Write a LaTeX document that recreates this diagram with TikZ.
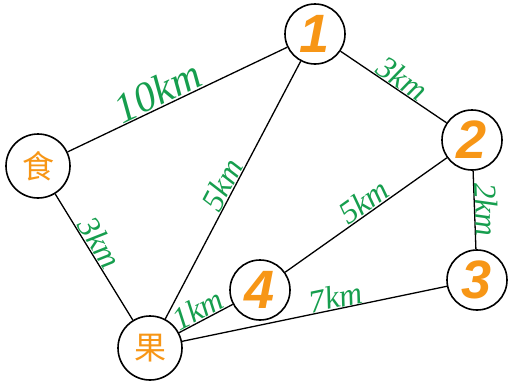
\documentclass[tikz,border=0pt]{standalone}
\usepackage{fontspec}
\setmainfont{Liberation Serif}
\newfontfamily\cjkfont{Noto Sans CJK SC}
\newfontfamily\numfont{Liberation Sans}
\newfontfamily\kmfont{Liberation Serif Italic}
\definecolor{kmgreen}{RGB}{22,158,78}
\definecolor{townorange}{RGB}{247,150,22}
\begin{document}
\begin{tikzpicture}[x=1pt,y=-1pt,
  town/.style={circle,draw,line width=1.6pt,minimum size=60pt,inner sep=0pt,fill=white,text=townorange,font=\numfont\bfseries\itshape\fontsize{54}{54}\selectfont},
  hanzi/.style={town,minimum size=64pt,font=\cjkfont\fontsize{32}{32}\selectfont},
  dist/.style={sloped,above,inner sep=0.5pt,text=kmgreen,font=\kmfont\fontsize{32}{32}\selectfont},
  road/.style={line width=1.3pt}]
\useasboundingbox (0,0) rectangle (510,383);
\node[hanzi](shi) at (38,166){食};
\node[hanzi](guo) at (150,348){果};
\node[town](n1) at (315,34){1};
\node[town](n2) at (472,140){2};
\node[town](n3) at (477,280){3};
\node[town](n4) at (260,290){4};
\draw[road](shi)--node[dist,pos=.44,font=\kmfont\fontsize{42}{42}\selectfont]{10km}(n1);
\draw[road](n1)--node[dist,pos=.52]{3km}(n2);
\draw[road](n2)--node[dist,pos=.5]{2km}(n3);
\draw[road](guo)--node[dist,pos=.5]{5km}(n1);
\draw[road](n4)--node[dist,pos=.53]{5km}(n2);
\draw[road](shi)--node[dist,pos=.44]{3km}(guo);
\draw[road](guo)--node[dist,pos=.45]{1km}(n4);
\draw[road](guo)--node[dist,pos=.59]{7km}(n3);
\end{tikzpicture}
\end{document}
